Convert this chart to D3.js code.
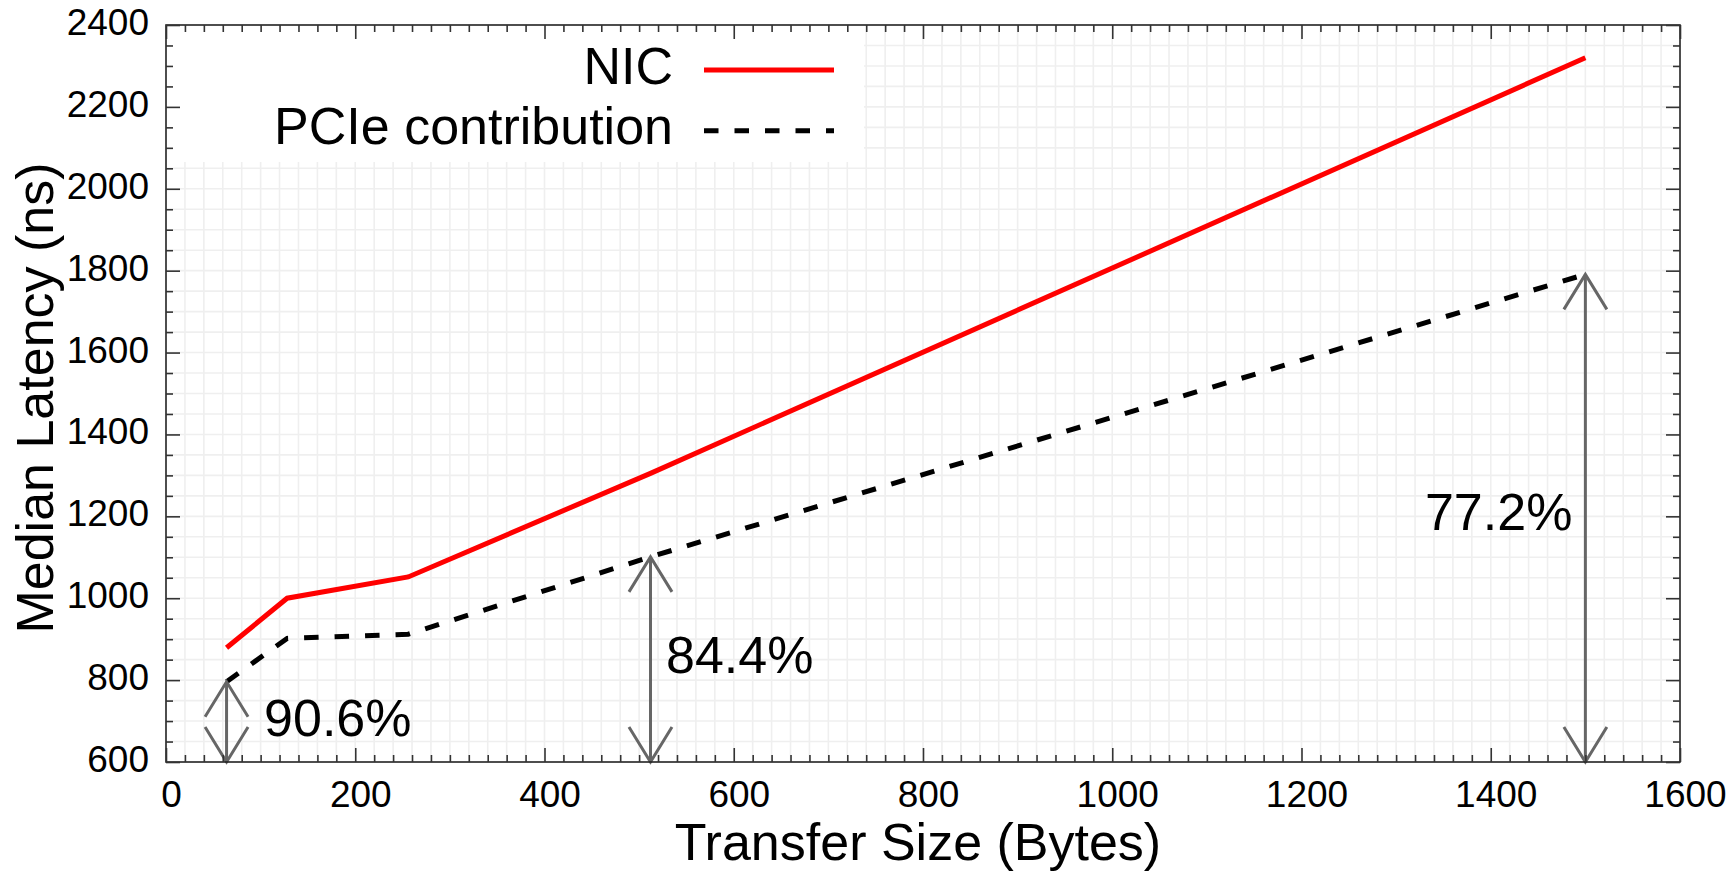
<!DOCTYPE html>
<html>
<head>
<meta charset="utf-8">
<script src="https://cdn.jsdelivr.net/npm/d3@7"></script>
<style>
  html, body { margin: 0; padding: 0; background: #fff; }
  svg { display: block; font-family: "Liberation Sans", Arial, Helvetica, sans-serif; }
</style>
</head>
<body>
<svg id="chart" width="1731" height="872"></svg>
<script>
// Median latency per transfer size (ns)
const transferSizes = [64, 128, 256, 512, 1500];
const nicLatency    = [879, 1000, 1052, 1305, 2320];
const pcieLatency   = [796, 902, 912, 1101, 1791];
const seriesNames   = ["NIC", "PCIe contribution"];

// Sizes where the PCIe share of NIC latency is annotated
const shareSizes  = [64, 512, 1500];
const shareLabels = ["90.6%", "84.4%", "77.2%"];

const xTicks = [0, 200, 400, 600, 800, 1000, 1200, 1400, 1600];
const yTicks = [600, 800, 1000, 1200, 1400, 1600, 1800, 2000, 2200, 2400];
const xTitle = "Transfer Size (Bytes)";
const yTitle = "Median Latency (ns)";

const svg = d3.select("#chart");
const L = 166, R = 1680, T = 25, B = 762;
const BIG = 52, SMALL = 37;
const x = d3.scaleLinear().domain([0, 1600]).range([L, R]);
const y = d3.scaleLinear().domain([600, 2400]).range([B, T]);

svg.append("rect").attr("width", 1731).attr("height", 872).attr("fill", "#fff");

// light grid at every minor step
const xMinor = d3.range(20, 1600, 20);
const yMinor = d3.range(650, 2400, 50);
const grid = svg.append("g").attr("stroke", "#efefef").attr("stroke-width", 1.6);
grid.selectAll(".gx").data(xMinor).join("line")
  .attr("x1", d => x(d)).attr("x2", d => x(d)).attr("y1", T).attr("y2", B);
grid.selectAll(".gy").data(yMinor).join("line")
  .attr("x1", L).attr("x2", R).attr("y1", d => y(d)).attr("y2", d => y(d));

// legend background
svg.append("rect")
  .attr("x", L + 1).attr("y", T + 1)
  .attr("width", 864 - L - 1).attr("height", 162 - T - 1)
  .attr("fill", "#fff");

// series lines
const pts = (vals) => transferSizes.map((s, i) => [s, vals[i]]);
const line = d3.line().x(d => x(d[0])).y(d => y(d[1]));
const DASH = "14.5,16";

svg.append("path").datum(pts(pcieLatency))
  .attr("d", line).attr("fill", "none")
  .attr("stroke", "#000").attr("stroke-width", 5).attr("stroke-dasharray", DASH);
svg.append("path").datum(pts(nicLatency))
  .attr("d", line).attr("fill", "none")
  .attr("stroke", "#ff0000").attr("stroke-width", 5);

// double arrows marking the PCIe share
const headLen = 35, headHalf = 21.5;
const shareLayout = [
  { dx: 37.5, anchor: "start", at: 664 },
  { dx: 15.5, anchor: "start", at: 817 },
  { dx: -13,  anchor: "end",   at: 1167 }
];
const arrows = svg.append("g")
  .attr("stroke", "#666").attr("stroke-width", 3).attr("fill", "none")
  .attr("stroke-linejoin", "miter");
shareSizes.forEach((s, i) => {
  const v = pcieLatency[transferSizes.indexOf(s)];
  const ax = x(s), yTop = y(v), yBot = y(600);
  arrows.append("line").attr("x1", ax).attr("x2", ax).attr("y1", yTop).attr("y2", yBot);
  arrows.append("polyline").attr("points",
    [[ax - headHalf, yTop + headLen], [ax, yTop], [ax + headHalf, yTop + headLen]].join(" "));
  arrows.append("polyline").attr("points",
    [[ax - headHalf, yBot - headLen], [ax, yBot], [ax + headHalf, yBot - headLen]].join(" "));
  const lay = shareLayout[i];
  svg.append("text")
    .attr("x", ax + lay.dx).attr("y", y(lay.at))
    .attr("text-anchor", lay.anchor)
    .attr("font-size", BIG).attr("fill", "#000")
    .text(shareLabels[i]);
});

// legend entries
const legend = svg.append("g");
const legendRows = [
  { name: seriesNames[0], ly: 70,    base: 83.5, color: "#ff0000", dash: null },
  { name: seriesNames[1], ly: 130.7, base: 144,  color: "#000",    dash: DASH }
];
legendRows.forEach(r => {
  legend.append("text").attr("x", 673).attr("y", r.base)
    .attr("text-anchor", "end").attr("font-size", BIG).text(r.name);
  legend.append("line").attr("x1", 704).attr("x2", 834)
    .attr("y1", r.ly).attr("y2", r.ly)
    .attr("stroke", r.color).attr("stroke-width", 5)
    .attr("stroke-dasharray", r.dash);
});

// frame
svg.append("rect").attr("x", L).attr("y", T).attr("width", R - L).attr("height", B - T)
  .attr("fill", "none").attr("stroke", "#222").attr("stroke-width", 1.6);

// inward ticks on all four sides
function ticks(axis, transform, values, size, labels) {
  const g = svg.append("g").attr("transform", transform)
    .call(axis.tickValues(values).tickSize(-size).tickSizeOuter(0)
      .tickFormat(labels ? d3.format("d") : ""));
  g.select(".domain").remove();
  g.selectAll(".tick line").attr("stroke", "#333").attr("stroke-width", 1.6);
  return g;
}
const xMinorTicks = xMinor.filter(d => d % 200 !== 0);
const yMinorTicks = yMinor.filter(d => d % 200 !== 0);

const bottom = ticks(d3.axisBottom(x), `translate(0,${B})`, xTicks, 14, true);
ticks(d3.axisBottom(x), `translate(0,${B})`, xMinorTicks, 7, false);
ticks(d3.axisTop(x), `translate(0,${T})`, xTicks, 14, false);
ticks(d3.axisTop(x), `translate(0,${T})`, xMinorTicks, 7, false);
const left = ticks(d3.axisLeft(y), `translate(${L},0)`, yTicks, 14, true);
ticks(d3.axisLeft(y), `translate(${L},0)`, yMinorTicks, 7, false);
ticks(d3.axisRight(y), `translate(${R},0)`, yTicks, 14, false);
ticks(d3.axisRight(y), `translate(${R},0)`, yMinorTicks, 7, false);

bottom.selectAll(".tick text")
  .attr("y", 44.5).attr("dy", 0).attr("dx", 5)
  .attr("font-size", SMALL).attr("fill", "#000")
  .attr("font-family", "Liberation Sans, Arial, Helvetica, sans-serif");
left.selectAll(".tick text")
  .attr("x", -17).attr("dy", 0).attr("y", 9.5)
  .attr("font-size", SMALL).attr("fill", "#000")
  .attr("font-family", "Liberation Sans, Arial, Helvetica, sans-serif");

// axis titles
svg.append("text").attr("x", 918).attr("y", 860)
  .attr("text-anchor", "middle").attr("font-size", BIG).text(xTitle);
svg.append("text")
  .attr("transform", "translate(53,398) rotate(-90)")
  .attr("text-anchor", "middle").attr("font-size", BIG).text(yTitle);
</script>
</body>
</html>
